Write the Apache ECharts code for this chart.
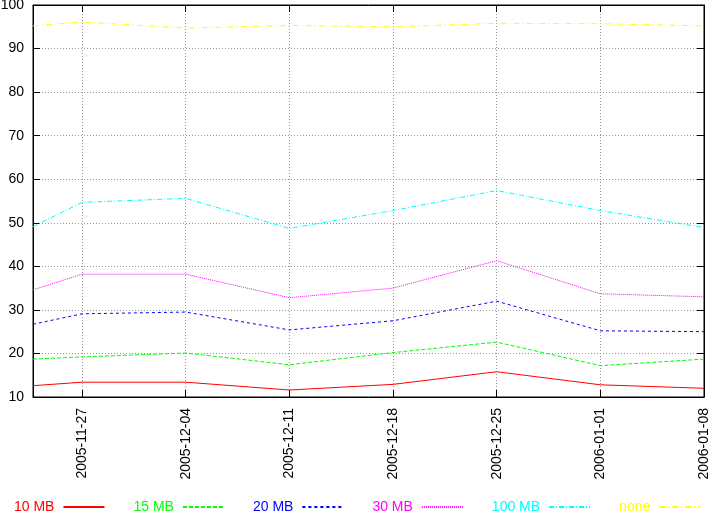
<!DOCTYPE html>
<html>
<head>
<meta charset="utf-8">
<script src="https://cdn.jsdelivr.net/npm/echarts@6/dist/echarts.min.js"></script>
<style>
html, body { margin: 0; padding: 0; background: #fff; }
#main { width: 708px; height: 511px; }
</style>
</head>
<body>
<div id="main"></div>
<script>
// sample dates (first one is a partial week before 2005-11-27)
var dates = ['2005-11-23 16:30', '2005-11-27', '2005-12-04', '2005-12-11',
             '2005-12-18', '2005-12-25', '2006-01-01', '2006-01-08'];
var tickDates = ['2005-11-27', '2005-12-04', '2005-12-11', '2005-12-18',
                 '2005-12-25', '2006-01-01', '2006-01-08'];

var names = ['10 MB', '15 MB', '20 MB', '30 MB', '100 MB', 'none'];
var mb10  = [12.6, 13.4, 13.4, 11.6, 12.9, 15.8, 12.8, 12.0];
var mb15  = [18.7, 19.2, 20.1, 17.4, 20.2, 22.6, 17.2, 18.7];
var mb20  = [26.7, 29.1, 29.5, 25.4, 27.5, 32.0, 25.2, 25.0];
var mb30  = [34.6, 38.2, 38.2, 32.8, 35.0, 41.3, 33.7, 33.0];
var mb100 = [49.1, 54.7, 55.6, 48.7, 52.8, 57.4, 52.8, 48.9];
var none  = [95.2, 96.1, 94.7, 95.3, 95.0, 95.8, 95.7, 95.2];
var values = [mb10, mb15, mb20, mb30, mb100, none];

var colors = ['#ff0000', '#00ff00', '#0000ff', '#ff00ff', '#00ffff', '#ffff00'];
var dashes = ['solid', [4, 2], [3, 3], [1, 1], [5, 2, 1, 2], [6, 3, 1, 3]];

var font = 'Liberation Sans';
var myChart = echarts.init(document.getElementById('main'));

function toTime(s) {
    return echarts.number.parseDate(s).getTime();
}
var tMin = toTime(dates[0]);
var tMax = toTime(dates[dates.length - 1]);
var ticks = tickDates.map(toTime);

function pad(n) { return n < 10 ? '0' + n : '' + n; }
function fmtDate(v) {
    var d = new Date(v);
    return d.getFullYear() + '-' + pad(d.getMonth() + 1) + '-' + pad(d.getDate());
}

// key text is right-justified in front of its sample line, like gnuplot
var ctx = document.createElement('canvas').getContext('2d');
ctx.font = '14px "' + font + '"';
var keyBox = 60, keyGap = 4;
var rich = {};
names.forEach(function (n, i) {
    var tw = ctx.measureText(n).width;
    rich['k' + i] = {
        fontSize: 14, fontFamily: font, color: colors[i],
        padding: [0, keyGap, 0, Math.max(0, keyBox - keyGap - tw)]
    };
});

var series = names.map(function (n, i) {
    return {
        name: n,
        type: 'line',
        symbol: 'none',
        data: dates.map(function (d, j) { return [toTime(d), values[i][j]]; }),
        lineStyle: { color: colors[i], width: 1, type: dashes[i] },
        itemStyle: { color: colors[i] },
        emphasis: { disabled: true }
    };
});

var blackLine = { show: true, lineStyle: { color: '#000', width: 1 } };
var inTick = { show: true, inside: true, length: 7, lineStyle: { color: '#000' } };

var option = {
    animation: false,
    backgroundColor: '#fff',
    textStyle: { fontFamily: font },
    grid: { left: 33, right: 4, top: 5, bottom: 114, show: true, borderColor: '#000', borderWidth: 1, outerBoundsMode: 'none' },
    legend: {
        top: 500,
        left: 14,
        padding: 0,
        align: 'right',
        itemWidth: 41,
        itemHeight: 12,
        itemGap: 28,
        selectedMode: false,
        itemStyle: { opacity: 0 },
        formatter: function (name) {
            return '{k' + names.indexOf(name) + '|' + name + '}';
        },
        textStyle: { fontSize: 14, fontFamily: font, rich: rich },
        data: names.map(function (n, i) {
            return { name: n, textStyle: { color: colors[i] } };
        })
    },
    xAxis: [{
        type: 'value',
        min: tMin,
        max: tMax,
        axisLine: blackLine,
        axisTick: echarts.util.extend({ customValues: ticks }, inTick),
        axisLabel: {
            customValues: ticks, rotate: 90, margin: 11, fontSize: 14, color: '#000', fontFamily: font,
            formatter: function (v) { return fmtDate(v); }
        },
        splitLine: { show: true, lineStyle: { color: '#999', type: [1, 2], width: 1 } }
    }, {
        type: 'value',
        position: 'top',
        min: tMin,
        max: tMax,
        axisLine: blackLine,
        axisTick: echarts.util.extend({ customValues: ticks }, inTick),
        axisLabel: { show: false },
        splitLine: { show: false }
    }],
    yAxis: [{
        type: 'value',
        min: 10,
        max: 100,
        interval: 10,
        axisLine: blackLine,
        axisTick: inTick,
        axisLabel: { margin: 9, fontSize: 14, color: '#000', fontFamily: font },
        splitLine: { show: true, lineStyle: { color: '#999', type: [1, 2], width: 1 } }
    }, {
        type: 'value',
        position: 'right',
        min: 10,
        max: 100,
        interval: 10,
        axisLine: blackLine,
        axisTick: inTick,
        axisLabel: { show: false },
        splitLine: { show: false }
    }],
    series: series
};

myChart.setOption(option);
</script>
</body>
</html>
